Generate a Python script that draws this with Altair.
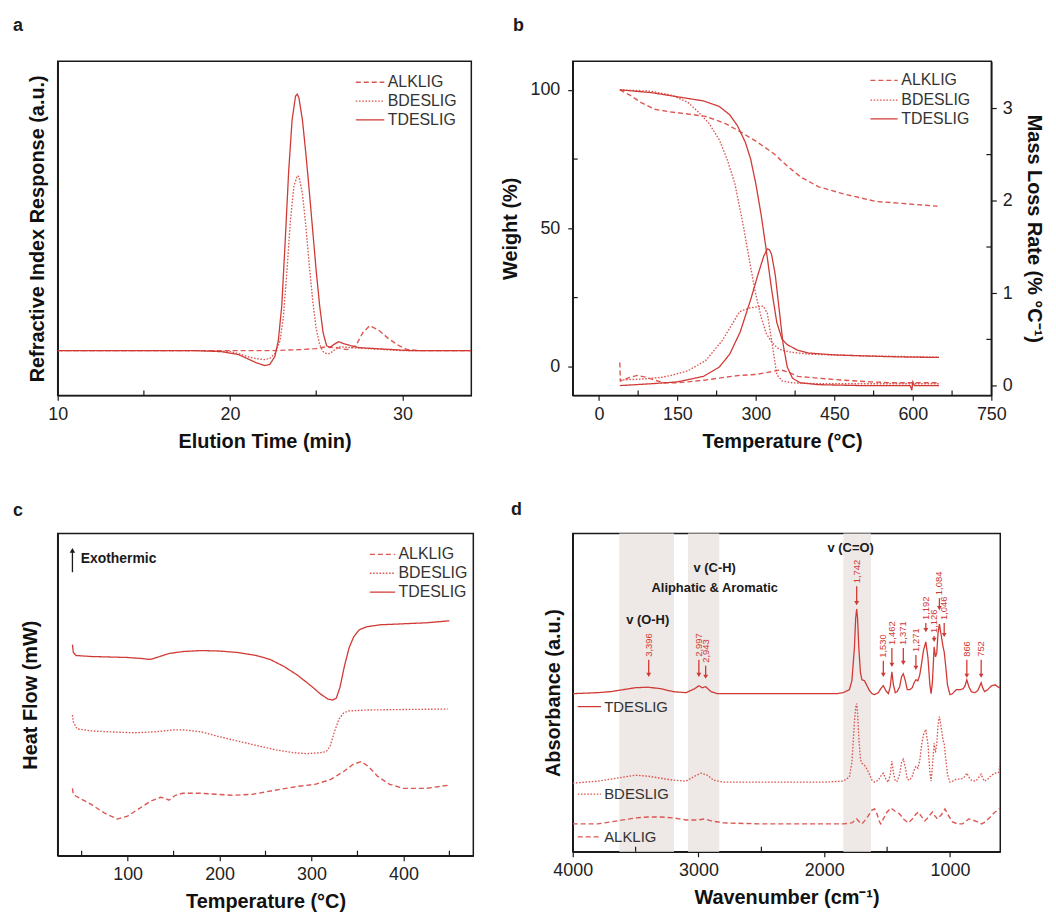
import altair as alt
import pandas as pd

RED = "#d03a35"
LIGHT = "#dc5752"
INK = "#1a1a1a"
FONT = "Liberation Sans"
SERIES = ["ALKLIG", "BDESLIG", "TDESLIG"]
DASHES = [[5, 3], [1.6, 1.6], [1, 0]]
WIDTHS = [1.4, 1.3, 2.2]
COLORS = [LIGHT, LIGHT, RED]

# ---------------- panel a : GPC ----------------
a_x_alk = [10, 20, 22.5, 24, 25, 25.6, 26.2, 26.8, 27.3, 27.7, 28.1, 28.6, 29.2, 29.8, 30.3, 31, 34]
a_y_alk = [0, 0, 0, 1, 2, 4, 3, 1, 5, 18, 25, 21, 12, 5, 1, 0, 0]
a_x_bdes = [10, 19, 20, 20.5, 21, 21.5, 22, 22.3, 22.6, 22.9, 23.1, 23.3, 23.5, 23.7, 23.9, 24.0,
            24.2, 24.4, 24.6, 24.8, 25.0, 25.2, 25.4, 25.6, 25.8, 26.0, 26.4, 27, 28, 30, 34]
a_y_bdes = [0, 0, -1, -3, -6, -8, -9, -8, -3, 10, 35, 80, 130, 165, 176, 175,
            158, 125, 85, 50, 22, 6, -1, -3, -3, 0, 4, 3, 2, 0, 0]
a_x_tdes = [10, 18, 19.5, 20.5, 21.0, 21.5, 22.0, 22.3, 22.6, 22.8, 23.0, 23.2, 23.4, 23.6, 23.8, 23.9,
            24.0, 24.2, 24.4, 24.6, 24.8, 25.0, 25.2, 25.4, 25.6, 25.8, 26.0, 26.3, 26.6, 27.0, 27.5,
            28.5, 29.5, 30.5, 34]
a_y_tdes = [0, 0, -1, -4, -8, -12, -15, -14, -6, 10, 45, 110, 180, 232, 256, 258,
            254, 232, 198, 160, 120, 80, 45, 18, 5, 3, 6, 9, 7, 5, 3,
            2, 1, 0, 0]
a_ticks = [10, 20, 30]
a_minor = [15, 25]
a_leg_y = [270, 251, 232]
a_leg_x1 = [27.3, 27.3, 27.3]
a_leg_x2 = [28.95, 28.95, 28.95]
a_leg_tx = [29.15, 29.15, 29.15]

# ---------------- panel b : TGA / DTG ----------------
b_t_alk = [40, 60, 80, 106, 138, 170, 204, 240, 269, 300, 334, 360, 386, 420, 464, 500, 530, 580, 647]
b_w_alk = [100, 98, 95.5, 93, 92, 91.3, 90.4, 88, 85, 81.5, 77, 72.5, 68.5, 65, 62.6, 61, 59.7, 59, 58]
b_t_bdes = [40, 100, 140, 170, 190, 210, 230, 245, 260, 275, 290, 300, 310, 320, 330, 340, 350, 370, 400, 500, 650]
b_w_bdes = [100, 99.5, 98, 95.5, 92, 88, 82, 75, 66, 52, 36, 26, 18, 12, 9, 7, 6, 5.2, 4.6, 4, 3.5]
b_t_tdes = [40, 100, 150, 200, 230, 250, 265, 280, 290, 300, 310, 320, 330, 340, 350, 360, 380, 400,
            450, 500, 550, 600, 650]
b_w_tdes = [100, 99, 97.5, 96, 94, 91, 87, 81, 75, 66, 55, 42, 28, 16, 10, 8, 6, 5,
            4.3, 4, 3.7, 3.5, 3.4]

b_td_alk = [40, 41, 55, 73, 90, 106, 125, 150, 204, 240, 269, 300, 330, 347, 360, 380, 420, 464, 520, 562, 650]
b_r_alk = [0.25, 0.05, 0.08, 0.11, 0.09, 0.06, 0.03, 0.03, 0.06, 0.09, 0.11, 0.12, 0.15, 0.17, 0.15, 0.1,
           0.08, 0.06, 0.04, 0.03, 0.03]
b_td_bdes = [40, 80, 120, 138, 170, 204, 236, 269, 288, 300, 314, 322, 327, 333, 340, 350, 370, 420, 500, 650]
b_r_bdes = [0.06, 0.07, 0.09, 0.11, 0.16, 0.27, 0.49, 0.8, 0.84, 0.85, 0.86, 0.78, 0.6, 0.38, 0.12, 0.05,
            0.03, 0.02, 0.02, 0.02]
b_td_tdes = [40, 100, 150, 200, 230, 250, 270, 290, 305, 315, 322, 326, 330, 337, 345, 352, 360, 370, 385,
             420, 500, 595, 598, 600, 603, 650]
b_r_tdes = [0, 0.02, 0.04, 0.1, 0.2, 0.34, 0.58, 0.93, 1.22, 1.4, 1.48, 1.47, 1.42, 1.2, 0.8, 0.45, 0.2,
            0.08, 0.03, 0.01, 0, 0, -0.05, 0.04, 0, 0]
b_ticks = [0, 150, 300, 450, 600, 750]
b_minor = [75, 225, 375, 525, 675]
b_wticks = [0, 50, 100]
b_wminor = [25, 75]
b_rticks = [0, 1, 2, 3]
b_rminor = [0.5, 1.5, 2.5]
b_leg_y = [103.4, 96.3, 89.5]
b_leg_x1 = [519, 519, 519]
b_leg_x2 = [571, 571, 571]
b_leg_tx = [578, 578, 578]

# ---------------- panel c : DSC ----------------
c_t_alk = [40, 41, 44, 60, 75, 89, 100, 110, 125, 136, 141, 145, 152, 160, 180, 214, 236, 260, 285, 304,
           321, 335, 345, 354, 362, 372, 385, 400, 425, 448]
c_v_alk = [68, 62, 60, 52, 43, 37, 40, 46, 55, 59, 58, 56, 61, 63, 63, 61, 62, 66, 70, 72,
           77, 85, 92, 95, 90, 80, 72, 68, 68, 71]
c_t_bdes = [40, 41, 45, 60, 80, 107, 130, 150, 160, 180, 200, 232, 260, 280, 295, 310, 316, 320, 325, 330,
            335, 340, 360, 400, 448]
c_v_bdes = [142, 135, 128, 126, 125, 124, 125, 127, 127, 125, 120, 113, 107, 104, 103, 104, 105, 110, 125, 138,
            144, 146, 147, 147.5, 148]
c_t_tdes = [40, 41, 44, 60, 80, 100, 115, 125, 135, 145, 160, 180, 200, 220, 240, 255, 270, 285, 300, 310,
            318, 323, 327, 331, 336, 341, 346, 352, 360, 375, 400, 425, 450]
c_v_tdes = [213, 205, 202, 201, 200.5, 200, 199, 198, 201, 204, 206, 207, 206.5, 205, 202, 198, 191, 182, 171, 163,
            158, 157, 159, 170, 192, 210, 221, 228, 231, 233, 234, 235, 237]
c_ticks = [100, 200, 300, 400]
c_minor = [50, 150, 250, 350, 450]
c_leg_y = [304, 285, 266]
c_leg_x1 = [363.6, 363.6, 363.6]
c_leg_x2 = [391, 391, 391]
c_leg_tx = [394.6, 394.6, 394.6]
exo_x = [40]
exo_y0 = [286]
exo_y1 = [308]
exo_tx = [49]
exo_ty = [299]
exo_text = ["Exothermic"]

# ---------------- panel d : FTIR ----------------
d_wn_tdes = [4000, 3800, 3700, 3600, 3500, 3400, 3300, 3200, 3100, 3030,
             2997, 2970, 2943, 2900, 2850, 2700, 2500, 2200, 2000, 1900,
             1850, 1800, 1780, 1760, 1750, 1742, 1735, 1725, 1712, 1700,
             1680, 1660, 1640, 1620, 1600, 1570, 1550, 1530, 1510, 1490,
             1475, 1462, 1450, 1435, 1420, 1400, 1385, 1371, 1355, 1340,
             1320, 1300, 1285, 1271, 1255, 1240, 1225, 1210, 1192, 1175,
             1160, 1150, 1140, 1126, 1115, 1105, 1095, 1084, 1070, 1055,
             1046, 1035, 1020, 1000, 980, 950, 920, 895, 880, 866,
             850, 830, 800, 780, 765, 752, 740, 725, 700, 670,
             640, 610, 600]
d_a_tdes = [159, 160, 161, 163, 165, 165.5, 164, 161, 160, 164,
            167, 165, 166, 161, 159, 159, 159, 159, 159, 159,
            160, 163, 172, 205, 235, 244, 235, 205, 180, 173,
            172, 167, 162, 159, 158, 160, 164, 167, 162, 159,
            166, 181, 168, 160, 161, 166, 176, 179, 172, 163,
            163, 165, 170, 173, 172, 178, 190, 203, 211, 195,
            168, 159, 170, 206, 196, 200, 220, 229, 218, 206,
            201, 188, 168, 158, 159, 163, 163, 164, 167, 173,
            166, 161, 160, 162, 166, 170, 165, 161, 163, 167,
            168, 165, 166]
d_wn_bdes = [4000, 3800, 3700, 3600, 3500, 3400, 3300, 3200, 3100, 3030,
             2980, 2930, 2880, 2800, 2500, 2200, 2000, 1850, 1800, 1780,
             1760, 1750, 1742, 1735, 1725, 1712, 1700, 1680, 1660, 1640,
             1620, 1600, 1570, 1550, 1530, 1510, 1490, 1475, 1462, 1450,
             1435, 1420, 1400, 1385, 1371, 1355, 1340, 1320, 1300, 1285,
             1271, 1255, 1240, 1225, 1210, 1192, 1175, 1160, 1150, 1140,
             1126, 1115, 1105, 1095, 1084, 1070, 1055, 1046, 1035, 1020,
             1000, 980, 950, 920, 895, 880, 866, 850, 830, 800,
             780, 765, 752, 740, 725, 700, 670, 640, 610, 600]
d_a_bdes = [69, 71, 73, 75, 77, 76, 74, 72, 71, 76,
            79, 77, 72, 70, 70, 70, 70, 71, 75, 90,
            130, 145, 149, 140, 115, 93, 89, 87, 83, 78,
            72, 70, 72, 76, 79, 73, 70, 78, 91, 80,
            71, 71, 78, 90, 93, 85, 73, 72, 76, 82,
            86, 84, 92, 108, 118, 123, 108, 80, 71, 85,
            109, 100, 108, 128, 136, 125, 112, 109, 95, 78,
            70, 71, 73, 73, 74, 76, 79, 75, 72, 71,
            73, 76, 78, 74, 71, 73, 77, 79, 80, 92]
d_wn_alk = [4000, 3800, 3700, 3600, 3500, 3400, 3300, 3200, 3100, 3000,
            2950, 2900, 2800, 2500, 2200, 2000, 1850, 1780, 1742, 1720,
            1700, 1680, 1650, 1620, 1600, 1580, 1560, 1550, 1530, 1500,
            1470, 1440, 1400, 1370, 1330, 1300, 1270, 1250, 1230, 1200,
            1170, 1140, 1120, 1100, 1070, 1040, 1010, 980, 940, 900,
            870, 850, 820, 780, 750, 720, 680, 650, 620, 600]
d_a_alk = [28, 28, 30, 32, 34, 35, 35, 34, 32, 32,
           33, 31, 29, 28, 28, 28, 28, 29, 33, 30,
           28, 31, 36, 42, 43, 38, 30, 28, 33, 40,
           44, 41, 38, 33, 29, 33, 38, 40, 36, 31,
           35, 40, 36, 33, 37, 43, 36, 30, 28, 28,
           31, 33, 32, 30, 28, 30, 35, 39, 42, 44]
d_ticks = [4000, 3000, 2000, 1000]
d_minor = [3500, 2500, 1500]
band_lo = [3630, 3083, 1848]
band_hi = [3195, 2835, 1629]
pk_wn = [3396, 2997, 2943, 1742, 1530, 1462, 1371, 1271, 1192, 1126, 1084, 1046, 866, 752]
pk_label = ["3,396", "2,997", "2,943", "1,742", "1,530", "1,462", "1,371", "1,271", "1,192",
            "1,126", "1,084", "1,046", "866", "752"]
pk_text_y = [196, 196, 190, 270, 195, 208, 208, 201, 233, 220, 258, 233, 196, 196]
pk_tip_y = [176, 176, 174, 248, 176, 186, 188, 183, 221, 211, 243, 216, 175, 175]
ann_text = ["v (O-H)", "v (C-H)", "Aliphatic & Aromatic", "v (C=O)"]
ann_x = [3404, 2871, 2871, 1790]
ann_y = [233, 285, 265, 305]
dleg_name = ["TDESLIG", "BDESLIG", "ALKLIG"]
dleg_y = [146, 58, 15]
dleg_x1 = [3960, 3960, 3960]
dleg_x2 = [3775, 3775, 3775]
dleg_tx = [3750, 3750, 3750]


# ---------------- helpers ----------------
def long(parts):
    return pd.concat([pd.DataFrame({"s": n, "x": xs, "y": ys}) for n, xs, ys in parts],
                     ignore_index=True)


def style():
    return dict(
        color=alt.Color("s:N", scale=alt.Scale(domain=SERIES, range=COLORS), legend=None),
        strokeDash=alt.StrokeDash("s:N", scale=alt.Scale(domain=SERIES, range=DASHES), legend=None),
        strokeWidth=alt.StrokeWidth("s:N", scale=alt.Scale(domain=SERIES, range=WIDTHS), legend=None),
    )


def xaxis(title, values):
    return alt.Axis(title=title, values=values, format="d", tickSize=5, labelPadding=5, titlePadding=8)


def hidden_y(title, pad):
    return alt.Axis(title=title, labels=False, ticks=False, titlePadding=pad)


def minor_x(vals, scale, axis, h):
    return alt.Chart(pd.DataFrame({"x": vals})).mark_rule(color=INK, strokeWidth=1.2).encode(
        x=alt.X("x:Q", scale=scale, axis=axis), y=alt.value(h), y2=alt.value(h - 5))


def minor_y(vals, scale, axis, x0, x1):
    return alt.Chart(pd.DataFrame({"y": vals})).mark_rule(color=INK, strokeWidth=1.2).encode(
        y=alt.Y("y:Q", scale=scale, axis=axis), x=alt.value(x0), x2=alt.value(x1))


def key(names, ys, x1, x2, tx, xs, xa, ysc, ya, size):
    df = pd.DataFrame({"s": names, "y": ys, "x": x1, "x2": x2, "tx": tx})
    seg = alt.Chart(df).mark_rule().encode(
        x=alt.X("x:Q", scale=xs, axis=xa), x2="x2:Q", y=alt.Y("y:Q", scale=ysc, axis=ya), **style())
    txt = alt.Chart(df).mark_text(font=FONT, fontSize=size, color="#333333", align="left",
                                  baseline="middle").encode(
        x=alt.X("tx:Q", scale=xs, axis=xa), y=alt.Y("y:Q", scale=ysc, axis=ya), text="s:N")
    return [seg, txt]


def ptitle(letter, dx, offset):
    return alt.TitleParams(letter, anchor="start", frame="group", dx=dx, offset=offset,
                           fontSize=18, fontWeight="bold", font=FONT, color=INK)


# ---------------- panel a ----------------
A_W, A_H = 416, 336
a_xs = alt.Scale(domain=[10, 34], nice=False, zero=False)
a_ys = alt.Scale(domain=[-45, 291], nice=False, zero=False)
a_xa = xaxis("Elution Time (min)", a_ticks)
a_ya = hidden_y("Refractive Index Response (a.u.)", 10)
a_df = long([("ALKLIG", a_x_alk, a_y_alk), ("BDESLIG", a_x_bdes, a_y_bdes), ("TDESLIG", a_x_tdes, a_y_tdes)])
a_lines = alt.Chart(a_df).mark_line(clip=True).encode(
    x=alt.X("x:Q", scale=a_xs, axis=a_xa),
    y=alt.Y("y:Q", scale=a_ys, axis=a_ya),
    **style())
panel_a = alt.layer(
    a_lines, minor_x(a_minor, a_xs, a_xa, A_H),
    *key(SERIES, a_leg_y, a_leg_x1, a_leg_x2, a_leg_tx, a_xs, a_xa, a_ys, a_ya, 16)
).properties(width=A_W, height=A_H, title=ptitle("a", -45, 26))

# ---------------- panel b ----------------
B_W, B_H = 421, 336
b_xs = alt.Scale(domain=[-50, 750], nice=False, zero=False)
b_yl = alt.Scale(domain=[-10.3, 110.3], nice=False, zero=False)
b_yr = alt.Scale(domain=[-0.106, 3.51], nice=False, zero=False)
b_xa = xaxis("Temperature (°C)", b_ticks)
b_yla = alt.Axis(title="Weight (%)", values=b_wticks, format="d", tickSize=5, labelPadding=8, titlePadding=10)
b_yra = alt.Axis(title="Mass Loss Rate (% °C⁻¹)", orient="right", values=b_rticks, format="d",
                 tickSize=5, labelPadding=6, titlePadding=11)
b_tga_df = long([("ALKLIG", b_t_alk, b_w_alk), ("BDESLIG", b_t_bdes, b_w_bdes), ("TDESLIG", b_t_tdes, b_w_tdes)])
b_dtg_df = long([("ALKLIG", b_td_alk, b_r_alk), ("BDESLIG", b_td_bdes, b_r_bdes), ("TDESLIG", b_td_tdes, b_r_tdes)])
b_tga = alt.Chart(b_tga_df).mark_line(clip=True).encode(
    x=alt.X("x:Q", scale=b_xs, axis=b_xa),
    y=alt.Y("y:Q", scale=b_yl, axis=b_yla),
    **style())
b_dtg = alt.Chart(b_dtg_df).mark_line(clip=True).encode(
    x=alt.X("x:Q", scale=b_xs, axis=b_xa),
    y=alt.Y("y:Q", scale=b_yr, axis=b_yra),
    **style())
b_left = alt.layer(b_tga, minor_y(b_wminor, b_yl, b_yla, 0, 5), minor_x(b_minor, b_xs, b_xa, B_H),
                   *key(SERIES, b_leg_y, b_leg_x1, b_leg_x2, b_leg_tx, b_xs, b_xa, b_yl, b_yla, 16))
b_right = alt.layer(b_dtg, minor_y(b_rminor, b_yr, b_yra, B_W - 5, B_W))
panel_b = alt.layer(b_left, b_right).resolve_scale(y="independent").properties(
    width=B_W, height=B_H, title=ptitle("b", -60, 26))

# ---------------- panel c ----------------
C_W, C_H = 418, 324
c_xs = alt.Scale(domain=[24, 476], nice=False, zero=False)
c_ys = alt.Scale(domain=[0, 325], nice=False, zero=False)
c_xa = xaxis("Temperature (°C)", c_ticks)
c_ya = hidden_y("Heat Flow (mW)", 17)
c_df = long([("ALKLIG", c_t_alk, c_v_alk), ("BDESLIG", c_t_bdes, c_v_bdes), ("TDESLIG", c_t_tdes, c_v_tdes)])
c_lines = alt.Chart(c_df).mark_line(clip=True).encode(
    x=alt.X("x:Q", scale=c_xs, axis=c_xa),
    y=alt.Y("y:Q", scale=c_ys, axis=c_ya),
    **style())
exo_df = pd.DataFrame({"x": exo_x, "y0": exo_y0, "y1": exo_y1, "tx": exo_tx, "ty": exo_ty, "t": exo_text})
exo_rule = alt.Chart(exo_df).mark_rule(color=INK, strokeWidth=1.3).encode(
    x=alt.X("x:Q", scale=c_xs, axis=c_xa), y=alt.Y("y0:Q", scale=c_ys, axis=c_ya), y2="y1:Q")
exo_head = alt.Chart(exo_df).mark_point(shape="triangle-up", filled=True, size=30, color=INK, opacity=1).encode(
    x=alt.X("x:Q", scale=c_xs, axis=c_xa), y=alt.Y("y1:Q", scale=c_ys, axis=c_ya))
exo_txt = alt.Chart(exo_df).mark_text(font=FONT, fontSize=14, fontWeight="bold", color=INK,
                                      align="left", baseline="middle").encode(
    x=alt.X("tx:Q", scale=c_xs, axis=c_xa), y=alt.Y("ty:Q", scale=c_ys, axis=c_ya), text="t:N")
panel_c = alt.layer(
    c_lines, minor_x(c_minor, c_xs, c_xa, C_H), exo_rule, exo_head, exo_txt,
    *key(SERIES, c_leg_y, c_leg_x1, c_leg_x2, c_leg_tx, c_xs, c_xa, c_ys, c_ya, 16)
).properties(width=C_W, height=C_H, title=ptitle("c", -45, 14))

# ---------------- panel d ----------------
D_W, D_H = 430, 320
d_xs = alt.Scale(domain=[4000, 600], nice=False, zero=False)
d_ys = alt.Scale(domain=[0, 320], nice=False, zero=False)
d_xa = xaxis("Wavenumber (cm⁻¹)", d_ticks)
d_ya = hidden_y("Absorbance (a.u.)", 9)
d_df = long([("ALKLIG", d_wn_alk, d_a_alk), ("BDESLIG", d_wn_bdes, d_a_bdes), ("TDESLIG", d_wn_tdes, d_a_tdes)])
band_df = pd.DataFrame({"x": band_lo, "x2": band_hi})
bands = alt.Chart(band_df).mark_rect(color="#eee8e6").encode(
    x=alt.X("x:Q", scale=d_xs, axis=d_xa), x2="x2:Q", y=alt.value(0), y2=alt.value(D_H))
d_lines = alt.Chart(d_df).mark_line(clip=True).encode(
    x=alt.X("x:Q", scale=d_xs, axis=d_xa),
    y=alt.Y("y:Q", scale=d_ys, axis=d_ya),
    **style())
ann_df = pd.DataFrame({"x": ann_x, "y": ann_y, "t": ann_text})
ann = alt.Chart(ann_df).mark_text(font=FONT, fontSize=13, fontWeight="bold", color=INK,
                                  align="center", baseline="middle").encode(
    x=alt.X("x:Q", scale=d_xs, axis=d_xa), y=alt.Y("y:Q", scale=d_ys, axis=d_ya), text="t:N")
pk_df = pd.DataFrame({"x": pk_wn, "t": pk_label, "ty": pk_text_y, "tip": pk_tip_y})
pk_df["start"] = pk_df["ty"] - 3
pk_df["head"] = pk_df["tip"] + 2
pk_text = alt.Chart(pk_df).mark_text(font=FONT, fontSize=9.5, color=RED, angle=270, align="left",
                                     baseline="middle").encode(
    x=alt.X("x:Q", scale=d_xs, axis=d_xa), y=alt.Y("ty:Q", scale=d_ys, axis=d_ya), text="t:N")
pk_rule = alt.Chart(pk_df).mark_rule(color=RED, strokeWidth=1.3).encode(
    x=alt.X("x:Q", scale=d_xs, axis=d_xa), y=alt.Y("start:Q", scale=d_ys, axis=d_ya), y2="head:Q")
pk_head = alt.Chart(pk_df).mark_point(shape="triangle-down", filled=True, size=24, color=RED, opacity=1).encode(
    x=alt.X("x:Q", scale=d_xs, axis=d_xa), y=alt.Y("head:Q", scale=d_ys, axis=d_ya))
panel_d = alt.layer(
    bands, d_lines, minor_x(d_minor, d_xs, d_xa, D_H),
    *key(dleg_name, dleg_y, dleg_x1, dleg_x2, dleg_tx, d_xs, d_xa, d_ys, d_ya, 15),
    ann, pk_rule, pk_head, pk_text
).properties(width=D_W, height=D_H, title=ptitle("d", -62, 15))

chart = alt.concat(panel_a, panel_b, panel_c, panel_d, columns=2,
                   spacing={"row": 139, "column": 100}, bounds="flush", align="none").resolve_scale(
    strokeDash="independent", strokeWidth="independent", color="independent"
).properties(
    padding={"left": 4, "top": 6, "right": 4, "bottom": 0}
).configure(font=FONT, background="white").configure_view(
    stroke=INK, strokeWidth=1.5
).configure_axis(
    grid=False, domainColor=INK, domainWidth=1.5, tickColor=INK, tickWidth=1.2,
    labelFont=FONT, labelFontSize=18, labelColor="#222222", titleFont=FONT, titleFontSize=20,
    titleFontWeight="bold", titleColor="#111111", labelFlush=False, labelOverlap=False
)

chart.save("out.html", embed_options={"renderer": "svg", "actions": False})
